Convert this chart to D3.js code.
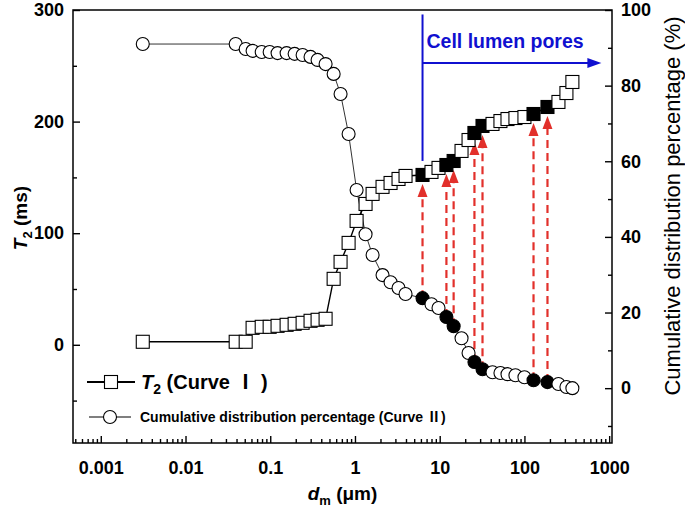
<!DOCTYPE html>
<html>
<head>
<meta charset="utf-8">
<script src="https://cdn.jsdelivr.net/npm/d3@7"></script>
<style>
  body { margin: 0; background: #fff; }
  svg { display: block; font-family: "Liberation Sans", Arial, sans-serif; }
</style>
</head>
<body>
<script>
// ---- data ----
const dValues = [0.00313, 0.0391, 0.0513, 0.0619, 0.0793, 0.0984, 0.122, 0.156, 0.194, 0.241,
  0.299, 0.362, 0.450, 0.560, 0.676, 0.841, 1.045, 1.333, 1.614, 2.115,
  2.630, 3.266, 3.951, 6.27, 8.00, 9.68, 12.0, 14.6, 18.1, 21.9,
  25.7, 32.0, 42.0, 52.1, 63.1, 78.3, 100, 128, 187, 252, 313, 368];
const t2Values = [2.7, 2.7, 2.7, 15.2, 16.1, 16.1, 17.0, 17.9, 18.8, 19.7,
  21.5, 22.4, 23.3, 59.1, 74.3, 91.3, 111.0, 126.2, 135.2, 141.5,
  145.0, 148.6, 151.3, 152.2, 154.9, 158.5, 161.1, 164.7, 173.7, 183.5,
  189.8, 196.1, 197.9, 200.5, 202.3, 203.2, 204.1, 206.8, 213.1, 217.6, 225.6, 235.5];
const cumValues = [91.0, 91.0, 89.7, 89.2, 88.9, 88.9, 88.6, 88.6, 88.4, 88.1,
  87.6, 86.8, 85.7, 83.1, 77.8, 67.2, 52.4, 40.7, 35.2, 29.9,
  28.0, 26.5, 24.9, 23.8, 22.2, 21.2, 18.8, 16.4, 13.2, 9.3,
  6.9, 5.0, 4.2, 4.0, 3.7, 3.4, 2.9, 2.1, 1.6, 1.1, 0.3, 0.0];
const highlightIdx = [23, 26, 27, 30, 31, 37, 38];

const leftTicks = [0, 100, 200, 300];
const leftMinor = [-50, 50, 150, 250];
const rightTicks = [0, 20, 40, 60, 80, 100];
const rightMinor = [-10, 10, 30, 50, 70, 90];
const xTicks = [0.001, 0.01, 0.1, 1, 10, 100, 1000];
const xTickLabels = ["0.001", "0.01", "0.1", "1", "10", "100", "1000"];

// annotation ("Cell lumen pores")
const lumenD = 6.27;        // x of vertical blue line
const lumenTopT2 = 296;     // top of blue line (T2 units)
const lumenArrowT2 = 252.5; // level of horizontal arrow (T2 units)
const lumenArrowEndD = 809; // end of arrow
const lumenLabel = "Cell lumen pores";

// ---- chart ----
const W = 685, H = 515;
const svg = d3.select("body").append("svg").attr("width", W).attr("height", H);

const x = d3.scaleLog().domain([0.00047, 1080]).range([73, 612]);
const yL = d3.scaleLinear().domain([-88, 300]).range([443, 10]);
const yR = d3.scaleLinear().domain([-14.5, 100]).range([443, 10]);

const pts = dValues.map((d, i) => ({ d, t2: t2Values[i], cum: cumValues[i], hi: highlightIdx.includes(i) }));

// frame
svg.append("rect").attr("x", x.range()[0]).attr("y", yL.range()[1])
  .attr("width", x.range()[1] - x.range()[0]).attr("height", yL.range()[0] - yL.range()[1])
  .attr("fill", "none").attr("stroke", "#000").attr("stroke-width", 1.5);

function styleAxis(g, fs) {
  g.select(".domain").remove();
  g.selectAll(".tick line").attr("stroke", "#000").attr("stroke-width", 1.4);
  g.selectAll(".tick text").attr("fill", "#000").style("font-size", fs + "px").style("font-weight", "bold")
    .style("font-family", "'Liberation Sans', Arial, sans-serif");
}

// left axis
svg.append("g").attr("transform", `translate(${x.range()[0]},0)`)
  .call(d3.axisLeft(yL).tickValues(leftTicks).tickSize(-7).tickPadding(9).tickFormat(d3.format("d")))
  .call(g => styleAxis(g, 18));
svg.append("g").attr("transform", `translate(${x.range()[0]},0)`)
  .call(d3.axisLeft(yL).tickValues(leftMinor).tickSize(-4).tickFormat(""))
  .call(g => styleAxis(g, 18));

// right axis
svg.append("g").attr("transform", `translate(${x.range()[1]},0)`)
  .call(d3.axisRight(yR).tickValues(rightTicks).tickSize(-7).tickPadding(9).tickFormat(d3.format("d")))
  .call(g => styleAxis(g, 18));
svg.append("g").attr("transform", `translate(${x.range()[1]},0)`)
  .call(d3.axisRight(yR).tickValues(rightMinor).tickSize(-4).tickFormat(""))
  .call(g => styleAxis(g, 18));

// bottom axis
const xMinor = [];
for (let e = -4; e <= 3; e++) for (let k = 2; k <= 9; k++) {
  const v = k * Math.pow(10, e);
  if (v > x.domain()[0] && v < x.domain()[1]) xMinor.push(v);
}
svg.append("g").attr("transform", `translate(0,${yL.range()[0]})`)
  .call(d3.axisBottom(x).tickValues(xTicks).tickSize(-7).tickPadding(18)
    .tickFormat((d, i) => xTickLabels[i]))
  .call(g => styleAxis(g, 18));
svg.append("g").attr("transform", `translate(0,${yL.range()[0]})`)
  .call(d3.axisBottom(x).tickValues(xMinor).tickSize(-4).tickFormat(""))
  .call(g => styleAxis(g, 18));

// axis titles
const lt = svg.append("text").attr("transform", `translate(27,218) rotate(-90)`)
  .attr("text-anchor", "middle").style("font-size", "19px").style("font-weight", "bold");
lt.append("tspan").style("font-style", "italic").text("T");
lt.append("tspan").attr("dy", 5).style("font-size", "13px").text("2");
lt.append("tspan").attr("dy", -5).text(" (ms)");

const bt = svg.append("text").attr("x", (x.range()[0] + x.range()[1]) / 2).attr("y", 500)
  .attr("text-anchor", "middle").style("font-size", "19px").style("font-weight", "bold");
bt.append("tspan").style("font-style", "italic").text("d");
bt.append("tspan").attr("dy", 5).style("font-size", "13px").text("m");
bt.append("tspan").attr("dy", -5).text(" (μm)");

svg.append("text").attr("transform", `translate(680,206) rotate(-90)`)
  .attr("text-anchor", "middle").style("font-size", "22px")
  .text("Cumulative distribution percentage (%)");

// lines
svg.append("path").datum(pts)
  .attr("d", d3.line().x(p => x(p.d)).y(p => yR(p.cum)))
  .attr("fill", "none").attr("stroke", "#333").attr("stroke-width", 1);
svg.append("path").datum(pts)
  .attr("d", d3.line().x(p => x(p.d)).y(p => yL(p.t2)))
  .attr("fill", "none").attr("stroke", "#000").attr("stroke-width", 1.4);

// red dashed arrows
const red = "#e2302b";
const hiPts = pts.filter(p => p.hi);
svg.append("g").selectAll("line").data(hiPts).join("line")
  .attr("x1", p => x(p.d)).attr("x2", p => x(p.d))
  .attr("y1", p => yR(p.cum)).attr("y2", p => yL(p.t2) + 18)
  .attr("stroke", red).attr("stroke-width", 2.2).attr("stroke-dasharray", "8,5");
svg.append("g").selectAll("path").data(hiPts).join("path")
  .attr("d", p => { const cx = x(p.d), ty = yL(p.t2) + 9; return `M${cx},${ty}L${cx - 5},${ty + 13}L${cx + 5},${ty + 13}Z`; })
  .attr("fill", red);

// blue annotation
const blue = "#1010d0";
const lx = x(lumenD);
const lumenT2 = t2Values[dValues.indexOf(lumenD)];
svg.append("line").attr("x1", lx).attr("x2", lx).attr("y1", yL(lumenTopT2)).attr("y2", yL(lumenT2) - 14)
  .attr("stroke", blue).attr("stroke-width", 2);
const ay = yL(lumenArrowT2), ax2 = x(lumenArrowEndD);
svg.append("line").attr("x1", lx).attr("x2", ax2 - 10).attr("y1", ay).attr("y2", ay)
  .attr("stroke", blue).attr("stroke-width", 2);
svg.append("path").attr("d", `M${ax2},${ay}L${ax2 - 14},${ay - 5}L${ax2 - 14},${ay + 5}Z`).attr("fill", blue);
svg.append("text").attr("x", lx + 4).attr("y", ay - 15).attr("fill", blue)
  .style("font-size", "19.5px").style("font-weight", "bold").text(lumenLabel);

// markers
svg.append("g").selectAll("circle").data(pts).join("circle")
  .attr("cx", p => x(p.d)).attr("cy", p => yR(p.cum)).attr("r", 6.5)
  .attr("fill", p => p.hi ? "#000" : "#fff").attr("stroke", "#000").attr("stroke-width", 1.1);
svg.append("g").selectAll("rect").data(pts).join("rect")
  .attr("x", p => x(p.d) - 6.5).attr("y", p => yL(p.t2) - 6.5).attr("width", 13).attr("height", 13)
  .attr("fill", p => p.hi ? "#000" : "#fff").attr("stroke", "#000").attr("stroke-width", 1.1);

// legend
const lg = svg.append("g");
lg.append("line").attr("x1", 87).attr("x2", 135).attr("y1", 382).attr("y2", 382).attr("stroke", "#000").attr("stroke-width", 2);
lg.append("rect").attr("x", 111 - 6.5).attr("y", 382 - 6.5).attr("width", 13).attr("height", 13)
  .attr("fill", "#fff").attr("stroke", "#000").attr("stroke-width", 1.1);
const l1 = lg.append("text").attr("x", 141).attr("y", 389).style("font-size", "20px").style("font-weight", "bold");
l1.append("tspan").style("font-style", "italic").text("T");
l1.append("tspan").attr("dy", 5).style("font-size", "14px").text("2");
l1.append("tspan").attr("dy", -5).text(" (Curve ");
l1.append("tspan").style("font-family", "'Noto Sans CJK SC', sans-serif").style("font-weight", "bold").text("Ⅰ");
l1.append("tspan").text(" )");

lg.append("line").attr("x1", 89).attr("x2", 131).attr("y1", 417).attr("y2", 417).attr("stroke", "#555").attr("stroke-width", 1.5);
lg.append("circle").attr("cx", 110).attr("cy", 417).attr("r", 6.5)
  .attr("fill", "#fff").attr("stroke", "#000").attr("stroke-width", 1.1);
const l2 = lg.append("text").attr("x", 140).attr("y", 422).style("font-size", "14px").style("font-weight", "bold");
l2.append("tspan").text("Cumulative distribution percentage (Curve ");
l2.append("tspan").style("font-family", "'Noto Sans CJK SC', sans-serif").style("font-weight", "bold").text("Ⅱ");
l2.append("tspan").text(")");
</script>
</body>
</html>
